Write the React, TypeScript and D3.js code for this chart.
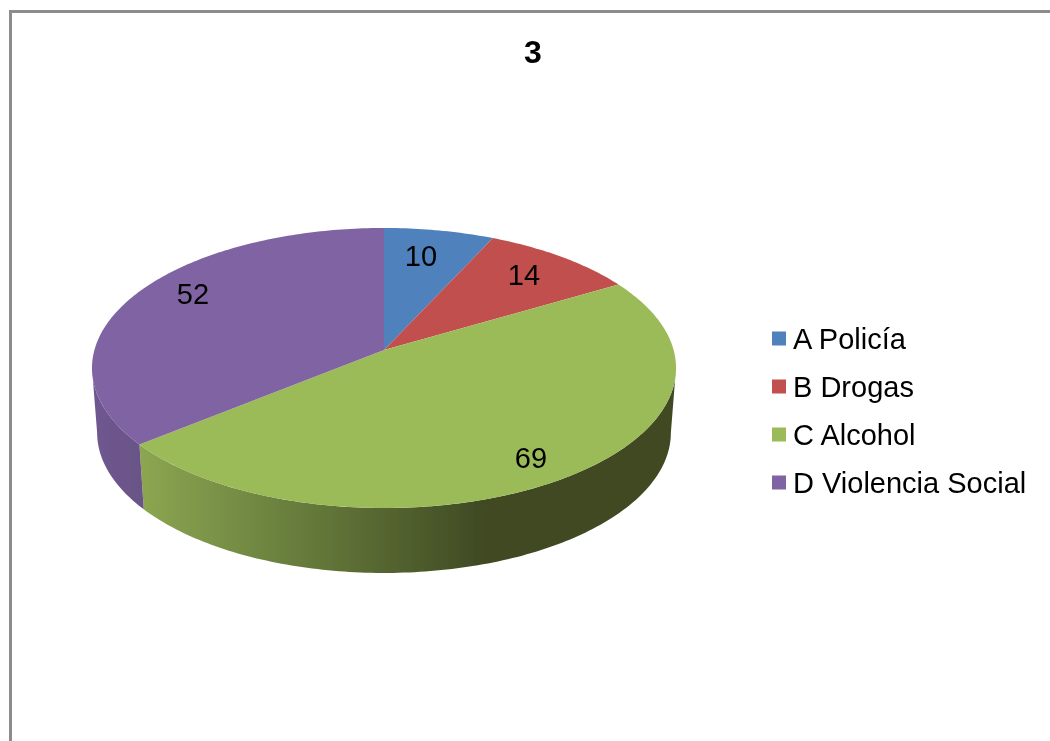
import React from "react";
import * as d3 from "d3";

const title = "3";
const categories = ["A Policía", "B Drogas", "C Alcohol", "D Violencia Social"];
const values = [10, 14, 69, 52];
const colors = ["#4f81bd", "#c0504d", "#9bbb59", "#8064a2"];

const W = 1050;
const H = 741;
const FONT = "'Liberation Sans', Arial, sans-serif";

// perspective projection of the tilted pie
const K = 0.1285;
const CX = 384;
const TOP = { a: 289.6, b: 137.7, cy: 350 };
const BOTTOM = { a: 284.5, b: 138, cy: 414.6 };
type Face = typeof TOP;
const project = (f: Face, t: number): [number, number] => {
  const w = 1 + K * Math.cos(t);
  return [CX + (f.a * Math.sin(t)) / w, f.cy - (f.b * Math.cos(t)) / w];
};
const arcPts = (f: Face, t0: number, t1: number): [number, number][] => {
  const n = Math.max(2, Math.ceil(Math.abs(t1 - t0) * 60));
  return d3.range(n + 1).map((i) => project(f, t0 + ((t1 - t0) * i) / n));
};
const line = d3.line();
const silhouette = Math.acos(-K);

const arcs = d3.pie<number>().sort(null)(values);

const labelPos: [number, number][] = [
  [421, 256],
  [524, 275],
  [531, 458],
  [193, 294],
];
const legendY = d3.scalePoint<string>().domain(categories).range([338.5, 482.5]);

const wall = (t0: number, t1: number) =>
  line([...arcPts(TOP, t0, t1), ...arcPts(BOTTOM, t1, t0)]) + "Z";

export default function App() {
  const green = arcs[2];
  const purple = arcs[3];
  return (
    <svg
      width={W}
      height={H}
      viewBox={`0 0 ${W} ${H}`}
      style={{ position: "absolute", left: 0, top: 0, display: "block", background: "#fff" }}
    >
      <defs>
        <filter id="soft" x="-5%" y="-5%" width="110%" height="110%">
          <feGaussianBlur stdDeviation="0.55" />
        </filter>
        <linearGradient id="greenWall" gradientUnits="userSpaceOnUse" x1="140" x2="676" y1="0" y2="0">
          <stop offset="0" stopColor="#8ca651" />
          <stop offset="0.2" stopColor="#728a43" />
          <stop offset="0.45" stopColor="#566630" />
          <stop offset="0.64" stopColor="#3f4a24" />
          <stop offset="1" stopColor="#3f4a24" />
        </linearGradient>
        <linearGradient id="purpleWall" gradientUnits="userSpaceOnUse" x1="92" x2="144" y1="0" y2="0">
          <stop offset="0" stopColor="#6f5790" />
          <stop offset="1" stopColor="#6a5386" />
        </linearGradient>
      </defs>
      <g filter="url(#soft)">
        <path d={`M10.5,741V11.5H${W}`} fill="none" stroke="#8c8c8c" strokeWidth={3} />
        <text x={533} y={63} textAnchor="middle" fontFamily={FONT} fontSize={32} fontWeight="bold" fill="#000">
          {title}
        </text>

        <path d={wall(Math.max(green.startAngle, silhouette), green.endAngle)} fill="url(#greenWall)" />
        <path d={wall(purple.startAngle, 2 * Math.PI - silhouette)} fill="url(#purpleWall)" />

        {arcs.map((a, i) => (
          <path
            key={categories[i]}
            d={line([[CX, TOP.cy], ...arcPts(TOP, a.startAngle, a.endAngle)]) + "Z"}
            fill={colors[i]}
          />
        ))}

        {values.map((v, i) => (
          <text
            key={i}
            x={labelPos[i][0]}
            y={labelPos[i][1] + 10}
            textAnchor="middle"
            fontFamily={FONT}
            fontSize={29}
            fill="#000"
          >
            {v}
          </text>
        ))}

        {categories.map((c, i) => (
          <g key={c}>
            <rect x={772} y={legendY(c)! - 7} width={14} height={14} fill={colors[i]} />
            <text x={793} y={legendY(c)! + 10} fontFamily={FONT} fontSize={29} fill="#000">
              {c}
            </text>
          </g>
        ))}
      </g>
    </svg>
  );
}
